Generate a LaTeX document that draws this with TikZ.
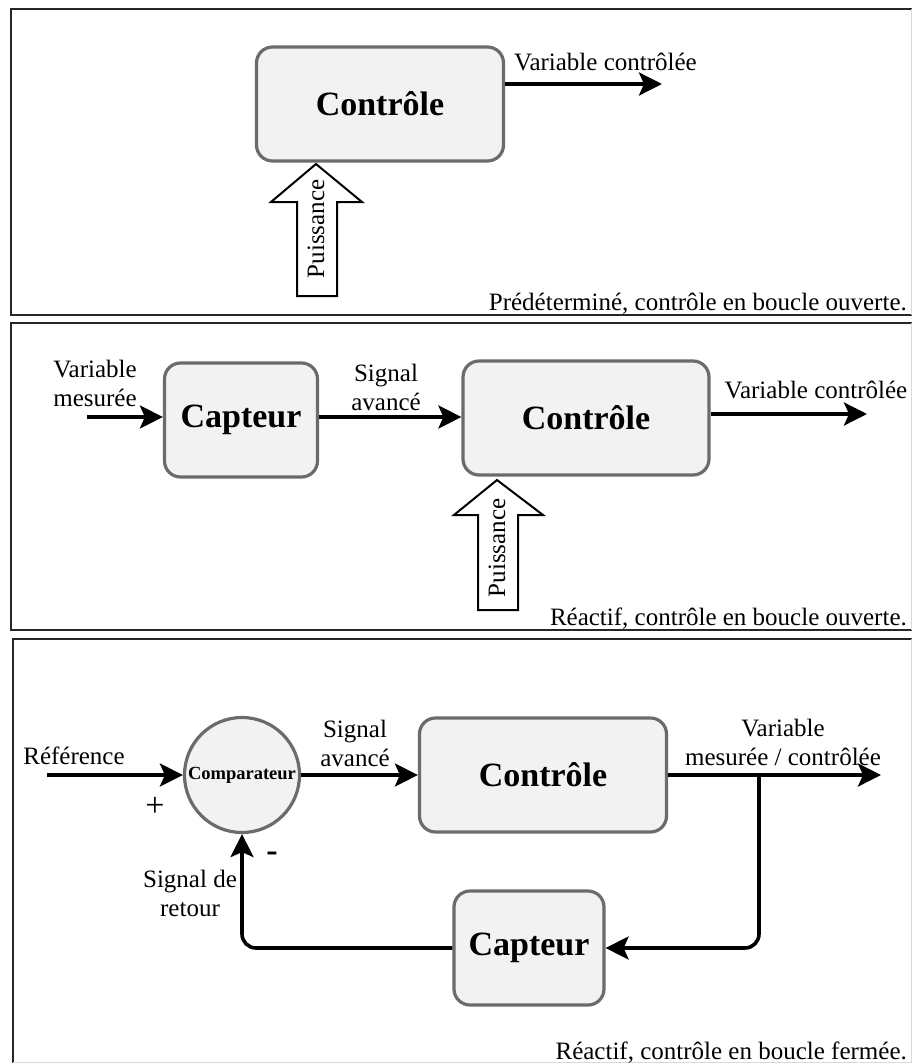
\documentclass[tikz,border=0pt]{standalone}
\usepackage{fontspec}
\setmainfont{Liberation Serif}
\usetikzlibrary{arrows.meta}
\definecolor{boxfill}{HTML}{F2F2F2}
\definecolor{boxedge}{HTML}{6B6B6B}
\begin{document}
\begin{tikzpicture}[x=1pt,y=-1pt,
  panel/.style={line width=2.6pt,draw=black!85,line cap=rect},
  paneledge/.style={line width=0.8pt,draw=black!15},
  block/.style={draw=boxedge,fill=boxfill,line width=3.2pt,rounded corners=16pt,
    minimum height=114pt,inner sep=0pt,font=\fontsize{34}{36}\selectfont\bfseries},
  flow/.style={line width=3.6pt,-{Stealth[length=23pt,width=23pt,inset=5pt]}},
  lbl/.style={font=\fontsize{25}{29}\selectfont,align=center,inner sep=0pt},
  sign/.style={font=\fontsize{34}{36}\selectfont,inner sep=0pt},
  power/.style={draw=black,fill=white,line width=2pt,line join=miter},
]
\useasboundingbox (0,0) rectangle (912,1063);

% ---------- panel frames ----------
\draw[panel] (911,9) -- (11,9) -- (11,315) -- (911,315);
\draw[paneledge] (911,9) -- (911,315);
\draw[panel] (911,323) -- (11,323) -- (11,630) -- (911,630);
\draw[paneledge] (911,323) -- (911,630);
\draw[panel] (911,639) -- (13,639) -- (13,1063);
\draw[paneledge] (911,639) -- (911,1062) -- (13,1062);

% ---------- predetermined, open loop ----------
\node[block,minimum width=247pt] (ctrlA) at (380,104) {Contrôle};
\coordinate (outA) at (662,84);
\draw[flow] (ctrlA.east |- outA) -- (outA);
\node[lbl,anchor=west] (varA) at (514,62) {Variable contrôlée};
\draw[power] (297,296) -- (297,202) -- (271,202) -- (316,164) -- (362,202)
  -- (337,202) -- (337,296) -- cycle;
\node[lbl,rotate=90] (powA) at (316,229) {Puissance};
\node[lbl,anchor=base east] (capA) at (907,310) {Prédéterminé, contrôle en boucle ouverte.};

% ---------- reactive, open loop ----------
\node[block,minimum width=153pt] (sensB) at (241,420) {Capteur};
\node[block,minimum width=246pt] (ctrlB) at (586,418) {Contrôle};
\coordinate (inB) at (87,417);
\coordinate (outB) at (867,414);
\draw[flow] (inB) -- (sensB.west |- inB);
\draw[flow] (sensB.east |- inB) -- (ctrlB.west |- inB);
\draw[flow] (ctrlB.east |- outB) -- (outB);
\node[lbl] (varB) at (95,383) {Variable\\mesurée};
\node[lbl] (sigB) at (386,387) {Signal\\avancé};
\node[lbl] (outlblB) at (816,390) {Variable contrôlée};
\draw[power] (478,610) -- (478,515) -- (454,515) -- (497,480) -- (543,515)
  -- (518,515) -- (518,610) -- cycle;
\node[lbl,rotate=90] (powB) at (497,548) {Puissance};
\node[lbl,anchor=base east] (capB) at (907,625) {Réactif, contrôle en boucle ouverte.};

% ---------- reactive, closed loop ----------
\node[circle,draw=boxedge,fill=boxfill,line width=3.2pt,minimum size=115pt,inner sep=0pt,
  font=\fontsize{18.5}{20}\selectfont\bfseries] (cmpC) at (242,775) {Comparateur};
\node[block,minimum width=247pt] (ctrlC) at (543,775) {Contrôle};
\node[block,minimum width=150pt] (sensC) at (529,948) {Capteur};
\coordinate (inC) at (47,775);
\coordinate (outC) at (881,775);
\coordinate (brC) at (759,775);
\draw[flow] (inC) -- (cmpC.west);
\draw[flow] (cmpC.east) -- (ctrlC.west);
\draw[flow] (ctrlC.east) -- (outC);
\draw[flow,rounded corners=14pt] (brC) |- (sensC.east);
\draw[flow,rounded corners=14pt] (sensC.west) -| (cmpC.south);
\node[lbl] (refC) at (74,756) {Référence};
\node[sign] (plusC) at (155,807) {+};
\node[sign] (minusC) at (272,857) {\bfseries -};
\node[lbl] (sigC) at (355,743) {Signal\\avancé};
\node[lbl] (varC) at (783,742) {Variable\\mesurée / contrôlée};
\node[lbl] (fbC) at (190,893) {Signal de\\retour};
\node[lbl,anchor=base east] (capC) at (907,1059) {Réactif, contrôle en boucle fermée.};
\end{tikzpicture}
\end{document}
